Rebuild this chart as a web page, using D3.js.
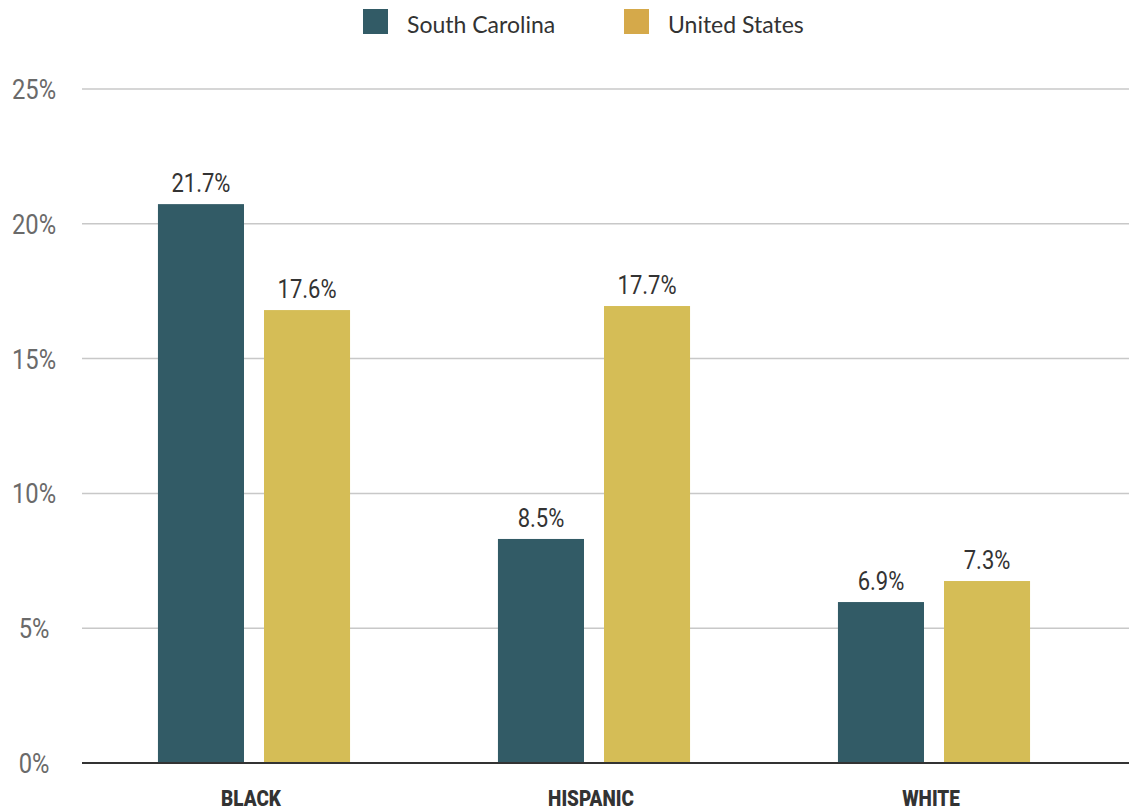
<!DOCTYPE html>
<html><head><meta charset="utf-8">
<script src="https://cdn.jsdelivr.net/npm/d3@7"></script>
<style>body{margin:0;background:#fff}svg{display:block}</style>
</head><body>
<script>
const categories = ["BLACK", "HISPANIC", "WHITE"];
const seriesNames = ["South Carolina", "United States"];
// bar heights as drawn in the picture
const southCarolina = [20.73, 8.31, 5.97];
const unitedStates = [16.8, 16.95, 6.75];
// printed value labels
const southCarolinaLabels = ["21.7%", "8.5%", "6.9%"];
const unitedStatesLabels = ["17.6%", "17.7%", "7.3%"];
const yTicks = [0, 5, 10, 15, 20, 25];
const barColors = ["#325b66", "#d5bd56"];
const legendColors = ["#325b66", "#d5a94a"];

const W = 1129, H = 811;
const svg = d3.select("body").append("svg").attr("width", W).attr("height", H);

const y = d3.scaleLinear().domain([0, 25]).range([763, 89]);
const x0 = d3.scaleBand().domain(categories).range([84, 1104]).paddingInner(0.435).paddingOuter(0.2175);
const x1 = d3.scaleBand().domain(seriesNames).range([0, x0.bandwidth()]).paddingInner(0.1887);

// gridlines
svg.append("g").selectAll("line").data(yTicks.filter(d => d > 0)).join("line")
  .attr("x1", 82).attr("x2", W).attr("y1", d => y(d)).attr("y2", d => y(d))
  .attr("stroke", "#c8c8c8").attr("stroke-width", 1.5);

// tick labels
svg.append("g").selectAll("text").data(yTicks).join("text")
  .attr("transform", d => `translate(34,${y(d) + 10}) scale(0.88,1)`)
  .attr("text-anchor", "middle")
  .attr("font-family", "Roboto").attr("font-size", 27).attr("fill", "#6a6a6a")
  .text(d => d + "%");

const data = categories.map((c, i) => ({
  cat: c,
  vals: [
    {s: seriesNames[0], v: southCarolina[i], l: southCarolinaLabels[i], k: 0},
    {s: seriesNames[1], v: unitedStates[i], l: unitedStatesLabels[i], k: 1}
  ]
}));

const groups = svg.append("g").selectAll("g").data(data).join("g")
  .attr("transform", d => `translate(${x0(d.cat)},0)`);

groups.selectAll("rect").data(d => d.vals).join("rect")
  .attr("x", d => x1(d.s)).attr("width", x1.bandwidth())
  .attr("y", d => y(d.v)).attr("height", d => y(0) - y(d.v))
  .attr("fill", d => barColors[d.k]);

groups.selectAll("text.val").data(d => d.vals).join("text").attr("class", "val")
  .attr("transform", d => `translate(${x1(d.s) + x1.bandwidth() / 2},${y(d.v) - 12}) scale(0.88,1)`)
  .attr("text-anchor", "middle")
  .attr("font-family", "Roboto").attr("font-size", 25).attr("fill", "#333")
  .text(d => d.l);

// zero line
svg.append("line").attr("x1", 82).attr("x2", W).attr("y1", y(0)).attr("y2", y(0))
  .attr("stroke", "#333").attr("stroke-width", 2);

// category labels
svg.append("g").selectAll("text").data(categories).join("text")
  .attr("transform", d => `translate(${x0(d) + x0.bandwidth() / 2 - 3},806) scale(0.86,1)`)
  .attr("text-anchor", "middle")
  .attr("font-family", "Roboto").attr("font-weight", 900).attr("font-size", 22).attr("fill", "#333")
  .text(d => d);

// legend
const legendX = [363, 624];
const lg = svg.append("g").selectAll("g").data(seriesNames).join("g")
  .attr("transform", (d, i) => `translate(${legendX[i]},9)`);
lg.append("rect").attr("width", 25).attr("height", 25).attr("fill", (d, i) => legendColors[i]);
lg.append("text").attr("x", 44).attr("y", 24)
  .attr("font-family", "Lato").attr("font-size", 23).attr("fill", "#333")
  .text(d => d);
</script>
</body></html>
